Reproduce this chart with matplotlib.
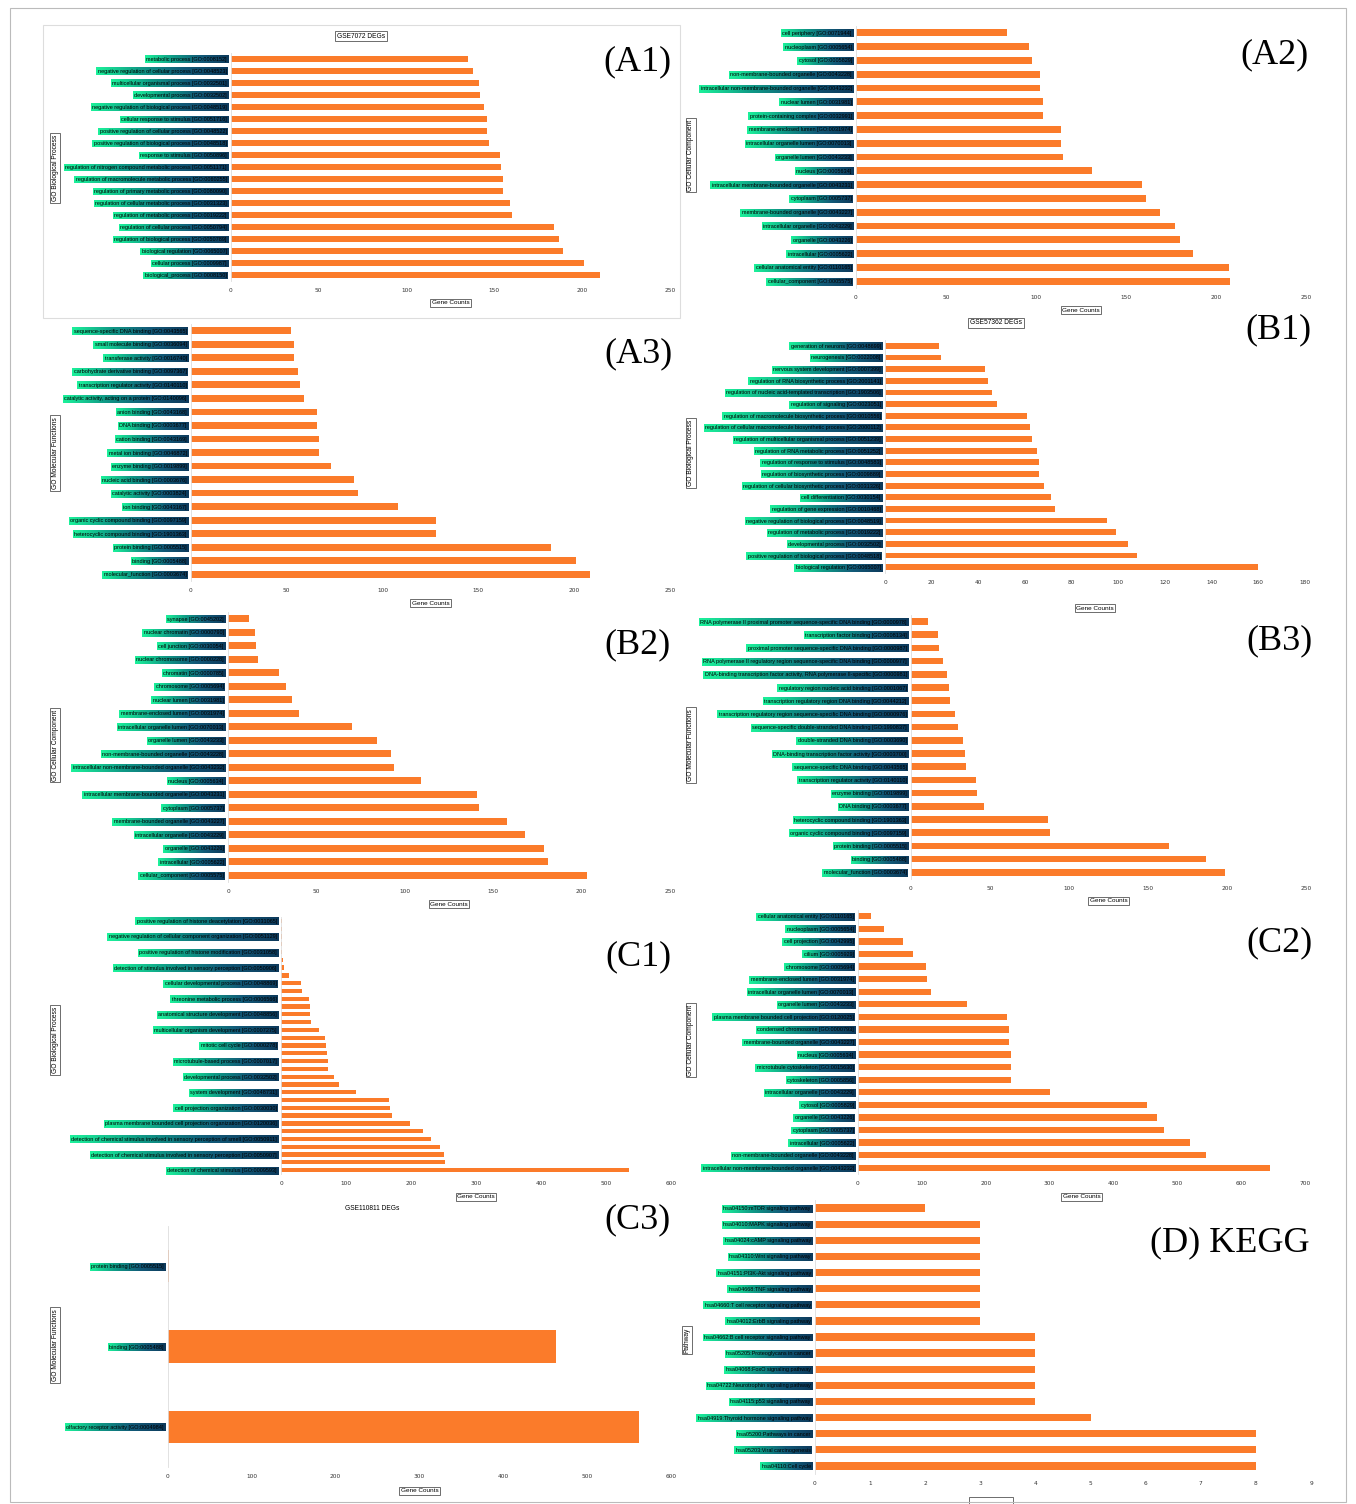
import matplotlib
matplotlib.use('Agg')
import matplotlib.pyplot as plt
import numpy as np
from matplotlib.colors import LinearSegmentedColormap
from matplotlib.patches import Rectangle

W, H = 1356, 1504
BAR_COLOR = '#fb7b2a'
LABEL_FONT = ['Liberation Sans Narrow', 'Liberation Sans', 'DejaVu Sans']

# ---------------- data ----------------
a1_labels = ['metabolic process [GO:0008152]', 'negative regulation of cellular process [GO:0048523]',
             'multicellular organismal process [GO:0032501]', 'developmental process [GO:0032502]',
             'negative regulation of biological process [GO:0048519]', 'cellular response to stimulus [GO:0051716]',
             'positive regulation of cellular process [GO:0048522]', 'positive regulation of biological process [GO:0048518]',
             'response to stimulus [GO:0050896]', 'regulation of nitrogen compound metabolic process [GO:0051171]',
             'regulation of macromolecule metabolic process [GO:0060255]', 'regulation of primary metabolic process [GO:0080090]',
             'regulation of cellular metabolic process [GO:0031323]', 'regulation of metabolic process [GO:0019222]',
             'regulation of cellular process [GO:0050794]', 'regulation of biological process [GO:0050789]',
             'biological regulation [GO:0065007]', 'cellular process [GO:0009987]', 'biological_process [GO:0008150]']
a1_values = [135, 138, 141, 142, 144, 146, 146, 147, 153, 154, 155, 155, 159, 160, 184, 187, 189, 201, 210]

a2_labels = ['cell periphery [GO:0071944]', 'nucleoplasm [GO:0005654]', 'cytosol [GO:0005829]',
             'non-membrane-bounded organelle [GO:0043228]', 'intracellular non-membrane-bounded organelle [GO:0043232]',
             'nuclear lumen [GO:0031981]', 'protein-containing complex [GO:0032991]', 'membrane-enclosed lumen [GO:0031974]',
             'intracellular organelle lumen [GO:0070013]', 'organelle lumen [GO:0043233]', 'nucleus [GO:0005634]',
             'intracellular membrane-bounded organelle [GO:0043231]', 'cytoplasm [GO:0005737]',
             'membrane-bounded organelle [GO:0043227]', 'intracellular organelle [GO:0043229]', 'organelle [GO:0043226]',
             'intracellular [GO:0005622]', 'cellular anatomical entity [GO:0110165]', 'cellular_component [GO:0005575]']
a2_values = [84, 96, 98, 102, 102, 104, 104, 114, 114, 115, 131, 159, 161, 169, 177, 180, 187, 207, 208]

a3_labels = ['sequence-specific DNA binding [GO:0043565]', 'small molecule binding [GO:0036094]',
             'transferase activity [GO:0016740]', 'carbohydrate derivative binding [GO:0097367]',
             'transcription regulator activity [GO:0140110]', 'catalytic activity, acting on a protein [GO:0140096]',
             'anion binding [GO:0043168]', 'DNA binding [GO:0003677]', 'cation binding [GO:0043169]',
             'metal ion binding [GO:0046872]', 'enzyme binding [GO:0019899]', 'nucleic acid binding [GO:0003676]',
             'catalytic activity [GO:0003824]', 'ion binding [GO:0043167]', 'organic cyclic compound binding [GO:0097159]',
             'heterocyclic compound binding [GO:1901363]', 'protein binding [GO:0005515]', 'binding [GO:0005488]',
             'molecular_function [GO:0003674]']
a3_values = [52, 54, 54, 56, 57, 59, 66, 66, 67, 67, 73, 85, 87, 108, 128, 128, 188, 201, 208]

b1_labels = ['generation of neurons [GO:0048699]', 'neurogenesis [GO:0022008]', 'nervous system development [GO:0007399]',
             'regulation of RNA biosynthetic process [GO:2001141]',
             'regulation of nucleic acid-templated transcription [GO:1903506]', 'regulation of signaling [GO:0023051]',
             'regulation of macromolecule biosynthetic process [GO:0010556]',
             'regulation of cellular macromolecule biosynthetic process [GO:2000112]',
             'regulation of multicellular organismal process [GO:0051239]', 'regulation of RNA metabolic process [GO:0051252]',
             'regulation of response to stimulus [GO:0048583]', 'regulation of biosynthetic process [GO:0009889]',
             'regulation of cellular biosynthetic process [GO:0031326]', 'cell differentiation [GO:0030154]',
             'regulation of gene expression [GO:0010468]', 'negative regulation of biological process [GO:0048519]',
             'regulation of metabolic process [GO:0019222]', 'developmental process [GO:0032502]',
             'positive regulation of biological process [GO:0048518]', 'biological regulation [GO:0065007]']
b1_values = [23, 24, 43, 44, 46, 48, 61, 62, 63, 65, 66, 66, 68, 71, 73, 95, 99, 104, 108, 160]

b2_labels = ['synapse [GO:0045202]', 'nuclear chromatin [GO:0000790]', 'cell junction [GO:0030054]',
             'nuclear chromosome [GO:0000228]', 'chromatin [GO:0000785]', 'chromosome [GO:0005694]',
             'nuclear lumen [GO:0031981]', 'membrane-enclosed lumen [GO:0031974]',
             'intracellular organelle lumen [GO:0070013]', 'organelle lumen [GO:0043233]',
             'non-membrane-bounded organelle [GO:0043228]', 'intracellular non-membrane-bounded organelle [GO:0043232]',
             'nucleus [GO:0005634]', 'intracellular membrane-bounded organelle [GO:0043231]', 'cytoplasm [GO:0005737]',
             'membrane-bounded organelle [GO:0043227]', 'intracellular organelle [GO:0043229]', 'organelle [GO:0043226]',
             'intracellular [GO:0005622]', 'cellular_component [GO:0005575]']
b2_values = [12, 15, 16, 17, 29, 33, 36, 40, 70, 84, 92, 94, 109, 141, 142, 158, 168, 179, 181, 203]

b3_labels = ['RNA polymerase II proximal promoter sequence-specific DNA binding [GO:0000978]',
             'transcription factor binding [GO:0008134]', 'proximal promoter sequence-specific DNA binding [GO:0000987]',
             'RNA polymerase II regulatory region sequence-specific DNA binding [GO:0000977]',
             'DNA-binding transcription factor activity, RNA polymerase II-specific [GO:0000981]',
             'regulatory region nucleic acid binding [GO:0001067]',
             'transcription regulatory region DNA binding [GO:0044212]',
             'transcription regulatory region sequence-specific DNA binding [GO:0000976]',
             'sequence-specific double-stranded DNA binding [GO:1990837]', 'double-stranded DNA binding [GO:0003690]',
             'DNA-binding transcription factor activity [GO:0003700]', 'sequence-specific DNA binding [GO:0043565]',
             'transcription regulator activity [GO:0140110]', 'enzyme binding [GO:0019899]', 'DNA binding [GO:0003677]',
             'heterocyclic compound binding [GO:1901363]', 'organic cyclic compound binding [GO:0097159]',
             'protein binding [GO:0005515]', 'binding [GO:0005488]', 'molecular_function [GO:0003674]']
b3_values = [11, 17, 18, 20, 23, 24, 25, 28, 30, 33, 34, 35, 41, 42, 46, 87, 88, 163, 187, 199]

# C1: 33 bars, Excel only printed every second category label
c1_labels = ['positive regulation of histone deacetylation [GO:0031065]',
             'negative regulation of cellular component organization [GO:0051129]',
             'positive regulation of histone modification [GO:0031058]',
             'detection of stimulus involved in sensory perception [GO:0050906]',
             'cellular developmental process [GO:0048869]', 'threonine metabolic process [GO:0006566]',
             'anatomical structure development [GO:0048856]', 'multicellular organism development [GO:0007275]',
             'mitotic cell cycle [GO:0000278]', 'microtubule-based process [GO:0007017]',
             'developmental process [GO:0032502]', 'system development [GO:0048731]',
             'cell projection organization [GO:0030030]',
             'plasma membrane bounded cell projection organization [GO:0120036]',
             'detection of chemical stimulus involved in sensory perception of smell [GO:0050911]',
             'detection of chemical stimulus involved in sensory perception [GO:0050907]',
             'detection of chemical stimulus [GO:0009593]']
c1_values = [1, 1, 1, 2, 2, 3, 5, 12, 31, 32, 43, 45, 45, 46, 58, 68, 69, 70, 72, 72, 81, 89, 116,
             166, 168, 170, 198, 218, 231, 245, 251, 252, 535]

c2_labels = ['cellular anatomical entity [GO:0110165]', 'nucleoplasm [GO:0005654]', 'cell projection [GO:0042995]',
             'cilium [GO:0005929]', 'chromosome [GO:0005694]', 'membrane-enclosed lumen [GO:0031974]',
             'intracellular organelle lumen [GO:0070013]', 'organelle lumen [GO:0043233]',
             'plasma membrane bounded cell projection [GO:0120025]', 'condensed chromosome [GO:0000793]',
             'membrane-bounded organelle [GO:0043227]', 'nucleus [GO:0005634]',
             'microtubule cytoskeleton [GO:0015630]', 'cytoskeleton [GO:0005856]',
             'intracellular organelle [GO:0043229]', 'cytosol [GO:0005829]', 'organelle [GO:0043226]',
             'cytoplasm [GO:0005737]', 'intracellular [GO:0005622]', 'non-membrane-bounded organelle [GO:0043228]',
             'intracellular non-membrane-bounded organelle [GO:0043232]']
c2_values = [20, 40, 70, 86, 106, 108, 115, 170, 233, 236, 236, 240, 240, 240, 301, 452, 468, 479, 520, 545, 645]

c3_labels = ['protein binding [GO:0005515]', 'binding [GO:0005488]', 'olfactory receptor activity [GO:0004984]']
c3_values = [1, 463, 562]

d_labels = ['hsa04150:mTOR signaling pathway', 'hsa04010:MAPK signaling pathway', 'hsa04024:cAMP signaling pathway',
            'hsa04310:Wnt signaling pathway', 'hsa04151:PI3K-Akt signaling pathway', 'hsa04668:TNF signaling pathway',
            'hsa04660:T cell receptor signaling pathway', 'hsa04012:ErbB signaling pathway',
            'hsa04662:B cell receptor signaling pathway', 'hsa05205:Proteoglycans in cancer',
            'hsa04068:FoxO signaling pathway', 'hsa04722:Neurotrophin signaling pathway',
            'hsa04115:p53 signaling pathway', 'hsa04919:Thyroid hormone signaling pathway',
            'hsa05200:Pathways in cancer', 'hsa05203:Viral carcinogenesis', 'hsa04110:Cell cycle']
d_values = [2, 3, 3, 3, 3, 3, 3, 3, 4, 4, 4, 4, 4, 5, 8, 8, 8]

# ---------------- helpers ----------------
fig = plt.figure(figsize=(W / 100, H / 100), dpi=100)


def rect(x0, y0, x1, y1):
    # pixel box (top-left origin) -> figure fraction
    return [x0 / W, 1 - y1 / H, (x1 - x0) / W, (y1 - y0) / H]


def fx(x):
    return x / W


def fy(y):
    return 1 - y / H


bar_axes = []


def draw_panel(box, labels, values, xmax, xstep, xlabel_y, ylabel, ylabel_xy, label_every=1, bar_h=0.5):
    ax = fig.add_axes(rect(*box))
    n = len(values)
    ax.barh(range(n), values, height=bar_h, color=BAR_COLOR)
    ax.set_ylim(n - 0.5, -0.5)
    ax.set_xlim(0, xmax)
    ax.set_yticks(range(0, n, label_every), labels)
    ax.set_xticks(np.arange(0, xmax + 0.001, xstep))
    ax.tick_params(axis='y', length=0, pad=3, labelsize=4.0)
    ax.tick_params(axis='x', length=0, pad=5, labelsize=4.2, labelcolor='#333333')
    for t in ax.get_yticklabels():
        t.set_family(LABEL_FONT)
    for s in ['top', 'right', 'bottom']:
        ax.spines[s].set_visible(False)
    ax.spines['left'].set_color('#dddddd')
    ax.spines['left'].set_linewidth(0.6)
    # x axis label in a little box
    if xlabel_y is not None:
        xc = (box[0] + box[2]) / 2
        fig.text(fx(xc), fy(xlabel_y), 'Gene Counts', ha='center', va='center', fontsize=4.6,
                 family=LABEL_FONT, bbox=dict(boxstyle='square,pad=0.25', fc='white', ec='#555555', lw=0.6))
    fig.text(fx(ylabel_xy[0]), fy(ylabel_xy[1]), ylabel, rotation=90, ha='center', va='center', fontsize=4.8,
             family=LABEL_FONT, bbox=dict(boxstyle='square,pad=0.25', fc='white', ec='#555555', lw=0.6))
    bar_axes.append(ax)
    return ax


draw_panel((231, 53, 670, 281), a1_labels, a1_values, 250, 50, 303, 'GO Biological Process', (55, 168))
draw_panel((856, 26, 1306, 288), a2_labels, a2_values, 250, 50, 310, 'GO Cellular Component', (691, 155))
draw_panel((191, 324, 670, 581), a3_labels, a3_values, 250, 50, 603, 'GO Molecular Functions', (55, 453))
draw_panel((885, 340, 1305, 573), b1_labels, b1_values, 180, 20, 608, 'GO Biological Process', (691, 453))
draw_panel((228, 612, 670, 882), b2_labels, b2_values, 250, 50, 904, 'GO Cellular Component', (55, 745))
draw_panel((911, 615, 1306, 879), b3_labels, b3_values, 250, 50, 901, 'GO Molecular Functions', (691, 745))
draw_panel((281, 917, 671, 1174), c1_labels, c1_values, 600, 100, 1197, 'GO Biological Process', (55, 1040),
           label_every=2, bar_h=0.55)
draw_panel((858, 910, 1305, 1174), c2_labels, c2_values, 700, 100, 1197, 'GO Cellular Component', (691, 1040))
draw_panel((168, 1226, 671, 1467), c3_labels, c3_values, 600, 100, 1491, 'GO Molecular Functions', (55, 1345),
           bar_h=0.4)
draw_panel((815, 1200, 1311, 1474), d_labels, d_values, 9, 1, None, 'Pathway', (687, 1340), bar_h=0.45)

# D's axis-title box is cut off by the bottom edge of the figure
fig.patches.append(Rectangle((fx(969), fy(1510)), 44 / W, 13 / H, transform=fig.transFigure,
                             fill=False, ec='#555555', lw=0.6))

# dataset titles
fig.text(fx(361), fy(36), 'GSE7072 DEGs', ha='center', va='center', fontsize=4.8, family=LABEL_FONT,
         bbox=dict(boxstyle='square,pad=0.25', fc='white', ec='#555555', lw=0.6))
fig.text(fx(996), fy(323), 'GSE57362 DEGs', ha='center', va='center', fontsize=4.8, family=LABEL_FONT,
         bbox=dict(boxstyle='square,pad=0.25', fc='white', ec='#555555', lw=0.6))
fig.text(fx(372), fy(1209), 'GSE110811 DEGs', ha='center', va='center', fontsize=4.8, family=LABEL_FONT)

# panel letters
serif = ['Liberation Serif', 'DejaVu Serif']
for txt, x, y in [('(A1)', 637, 62), ('(A2)', 1275, 55), ('(A3)', 638, 354), ('(B1)', 1278, 330),
                  ('(B2)', 638, 645), ('(B3)', 1280, 641), ('(C1)', 638, 957), ('(C2)', 1280, 943),
                  ('(C3)', 638, 1220), ('(D) KEGG', 1230, 1243)]:
    fig.text(fx(x), fy(y), txt, ha='center', va='center', fontsize=26, family=serif)

# frames
fig.patches.append(Rectangle((fx(10), fy(1502)), fx(1336), 1494 / H, transform=fig.transFigure,
                             fill=False, ec='#bbbbbb', lw=0.8))
fig.patches.append(Rectangle((fx(43), fy(318)), fx(637), 293 / H, transform=fig.transFigure,
                             fill=False, ec='#dddddd', lw=0.8))

# gradient backgrounds behind the category labels
cmap = LinearSegmentedColormap.from_list('lbl', ['#1cf09a', '#0f9a86', '#125a78', '#0d3a5c'])
grad = np.linspace(0, 1, 64).reshape(1, -1)
fig.canvas.draw()
r = fig.canvas.get_renderer()
for ax in bar_axes:
    for t in ax.get_yticklabels():
        if not t.get_text() or not t.get_visible():
            continue
        bb = t.get_window_extent(r)
        gx = fig.add_axes([(bb.x0 - 1.5) / W, (bb.y0 - 1.5) / H, (bb.width + 3) / W, (bb.height + 3) / H], zorder=-1)
        gx.imshow(grad, aspect='auto', cmap=cmap)
        gx.axis('off')

fig.savefig('out.png', dpi=100)
